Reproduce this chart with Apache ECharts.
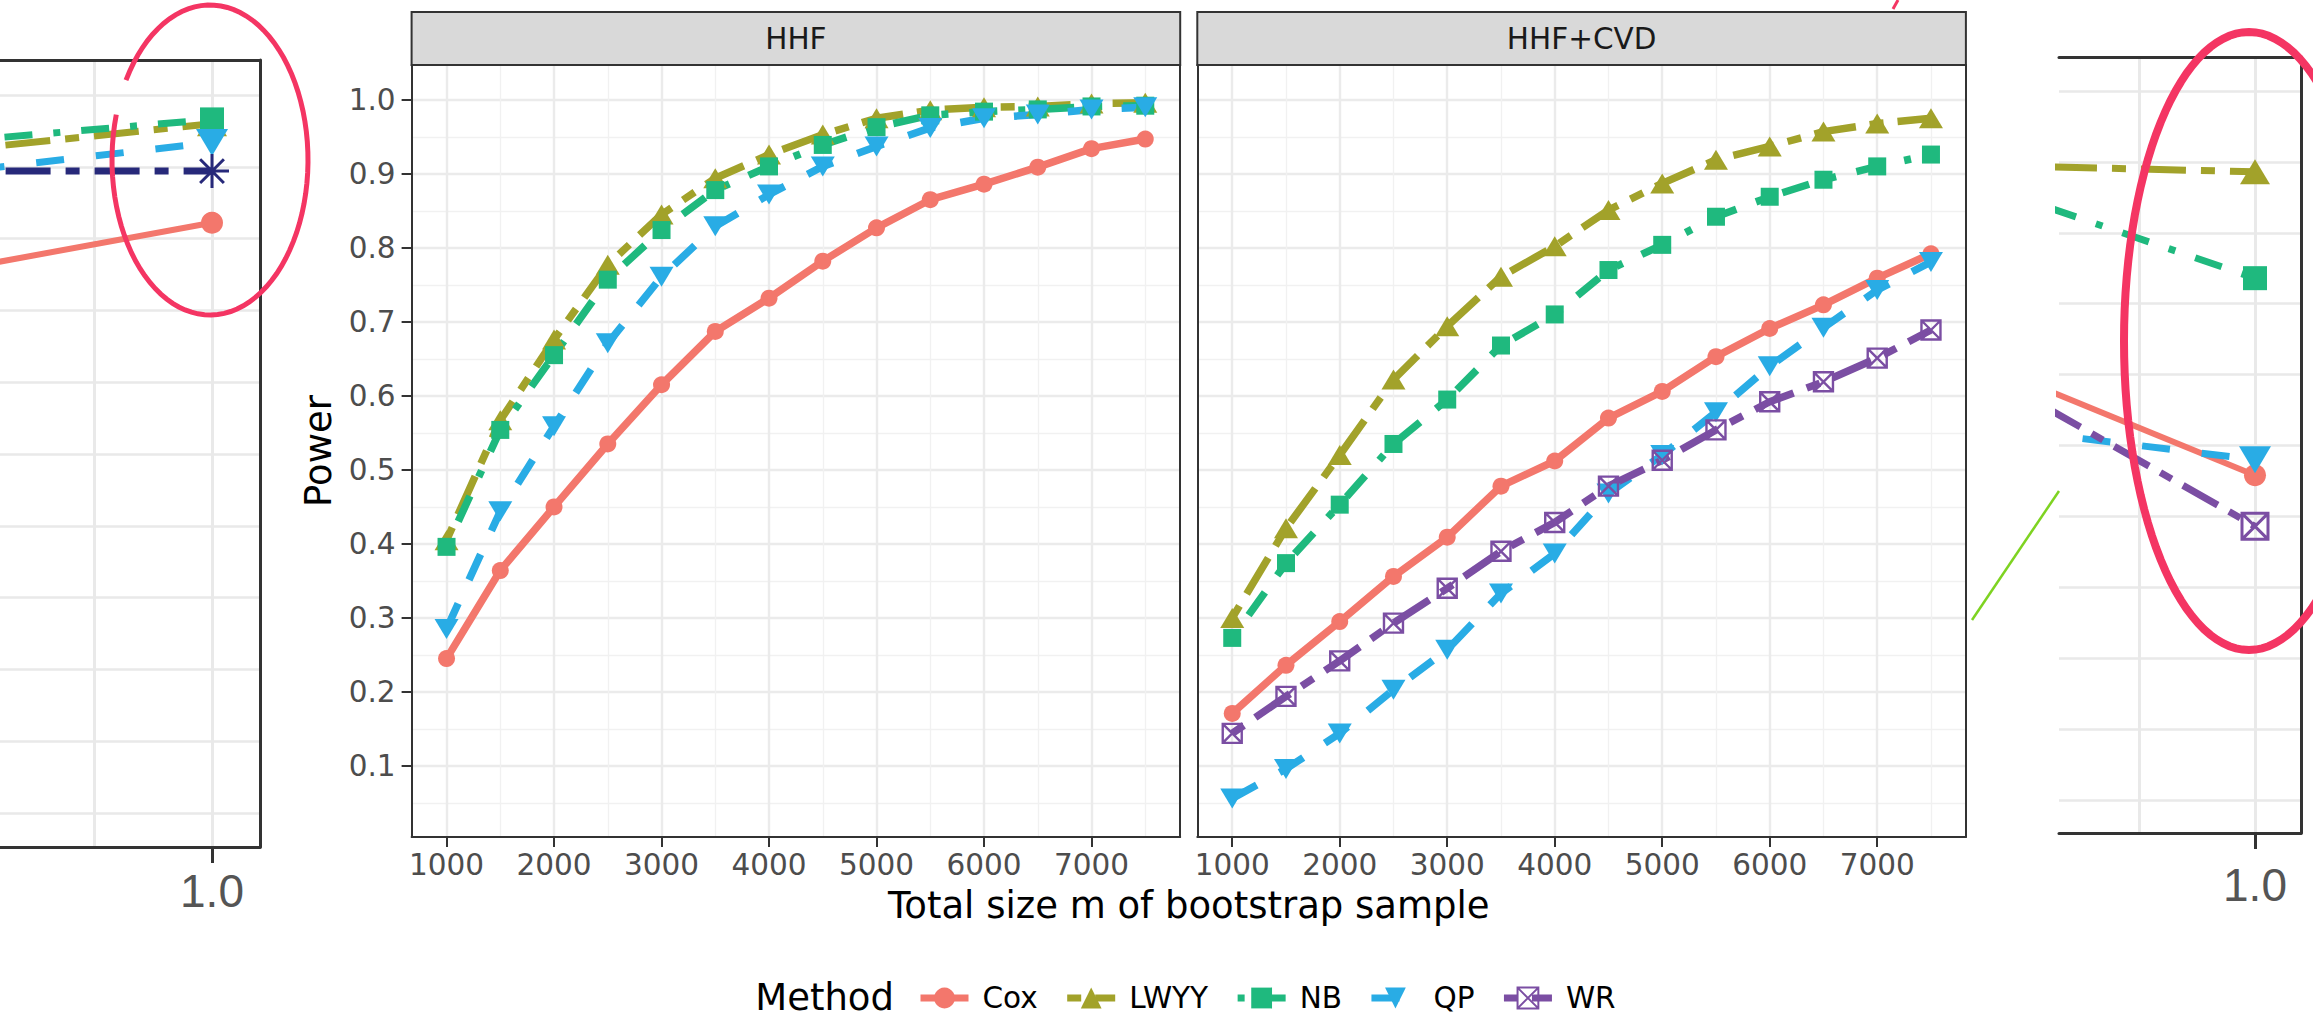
<!DOCTYPE html>
<html>
<head>
<meta charset="utf-8">
<script src="https://cdn.jsdelivr.net/npm/echarts@6/dist/echarts.min.js"></script>
<style>
html,body{margin:0;padding:0;background:#ffffff;}
#c{width:2313px;height:1018px;}
</style>
</head>
<body>
<div id="c"></div>
<script>
// ---------------- data ----------------
const sizes = [1000, 1500, 2000, 2500, 3000, 3500, 4000, 4500, 5000, 5500, 6000, 6500, 7000, 7500];
const methods = ['Cox', 'LWYY', 'NB', 'QP', 'WR'];

// panel "HHF"
const hhfCox  = [0.245, 0.364, 0.450, 0.535, 0.615, 0.687, 0.732, 0.782, 0.827, 0.865, 0.886, 0.909, 0.934, 0.947];
const hhfLWYY = [0.405, 0.567, 0.676, 0.777, 0.845, 0.894, 0.926, 0.953, 0.975, 0.986, 0.990, 0.991, 0.995, 0.996];
const hhfNB   = [0.396, 0.554, 0.655, 0.757, 0.824, 0.878, 0.910, 0.939, 0.963, 0.979, 0.984, 0.987, 0.991, 0.992];
const hhfQP   = [0.285, 0.444, 0.559, 0.671, 0.761, 0.829, 0.872, 0.910, 0.937, 0.962, 0.975, 0.980, 0.987, 0.990];

// panel "HHF+CVD"
const cvdCox  = [0.171, 0.236, 0.295, 0.356, 0.409, 0.478, 0.512, 0.570, 0.606, 0.653, 0.691, 0.723, 0.759, 0.792];
const cvdLWYY = [0.300, 0.421, 0.520, 0.622, 0.694, 0.761, 0.802, 0.851, 0.887, 0.919, 0.937, 0.957, 0.968, 0.975];
const cvdNB   = [0.273, 0.374, 0.453, 0.535, 0.595, 0.668, 0.710, 0.770, 0.804, 0.842, 0.869, 0.892, 0.910, 0.926];
const cvdQP   = [0.056, 0.096, 0.144, 0.203, 0.257, 0.333, 0.387, 0.468, 0.520, 0.578, 0.640, 0.692, 0.743, 0.781];
const cvdWR   = [0.144, 0.194, 0.242, 0.293, 0.340, 0.390, 0.429, 0.478, 0.513, 0.554, 0.592, 0.619, 0.651, 0.689];

// magnified detail crops (left and right insets)
const detailX    = [0.5, 1.0];
const leftCox    = [0.881, 0.911];
const leftLWYY   = [0.963, 0.980];
const leftNB     = [0.969, 0.983];
const leftQP     = [0.948, 0.967];
const leftOther  = [0.947, 0.947];
const rightCox   = [0.796, 0.729];
const rightLWYY  = [0.947, 0.943];
const rightNB    = [0.924, 0.868];
const rightQP    = [0.760, 0.740];
const rightWR    = [0.786, 0.693];

// tick labels / gridlines
const xMajor = [1000, 2000, 3000, 4000, 5000, 6000, 7000];
const xMinor = [1500, 2500, 3500, 4500, 5500, 6500, 7500];
const yMajor = [0.1, 0.2, 0.3, 0.4, 0.5, 0.6, 0.7, 0.8, 0.9, 1.0];
const yMinor = [0.05, 0.15, 0.25, 0.35, 0.45, 0.55, 0.65, 0.75, 0.85, 0.95];
const detailXMajor = [1.0];
const detailXMinor = [0.75];
const detailY = [0.5, 0.55, 0.6, 0.65, 0.7, 0.75, 0.8, 0.85, 0.9, 0.95, 1.0];

// ---------------- styles ----------------
const COL = {Cox:'#F3776C', LWYY:'#A2A22A', NB:'#1FB97E', QP:'#29ACE5', WR:'#7B4EA3', Other:'#27297A'};
const SYM = {
  Cox: 'circle',
  LWYY: 'triangle',
  NB: 'rect',
  QP: 'path://M0,0 L20,0 L10,17 Z',
  WR: 'path://M0,0 L10,0 L10,10 L0,10 Z M0,0 L10,10 M10,0 L0,10',
  Other: 'path://M5,0 L5,10 M0,5 L10,5 M1.5,1.5 L8.5,8.5 M8.5,1.5 L1.5,8.5'
};
const MAIN_SIZE = {Cox:17, LWYY:[24,20], NB:18, QP:[24,20], WR:19};
const MAIN_DASH = {Cox:'solid', LWYY:[14,14,42,14], NB:[7,21,28,21], QP:[28,26], WR:[14,14,42,14]};
const DET_SIZE = {Cox:22, LWYY:[30,25], NB:24, QP:[32,27], WR:26, Other:34};
const DET_DASH = {Cox:'solid', LWYY:[14,15,45,15], NB:[7,21,28,21], QP:[28,32], WR:[13,13,40,13], Other:[14,15,45,15]};

const FONT = 'DejaVu Sans';
const FRAME = '#333333';

function itemStyleFor(m, bw) {
  if (m === 'WR' || m === 'Other') {
    return {color:'rgba(0,0,0,0)', borderColor:COL[m], borderWidth:bw, opacity:1};
  }
  return {color:COL[m], opacity:1};
}

function lineSeries(name, m, xi, yi, xs, ys, big) {
  return {
    type:'line', name:name, xAxisIndex:xi, yAxisIndex:yi,
    data: xs.map((x, i) => [x, ys[i]]),
    symbol: SYM[m],
    symbolSize: big ? DET_SIZE[m] : MAIN_SIZE[m],
    showSymbol:true,
    clip:true,
    lineStyle:{color:COL[m], width: big ? (m === 'Cox' ? 6 : 7) : 7.5, type: big ? DET_DASH[m] : MAIN_DASH[m], cap:'butt'},
    itemStyle: itemStyleFor(m, big ? 3 : 2.4),
    emphasis:{disabled:true},
    animation:false
  };
}

// ---------------- axes ----------------
function mainX(grid, ticks, withLabels, pos, line) {
  return {
    type:'value', gridIndex:grid, min:675, max:7825, position:pos,
    axisLine:{show:line, onZero:false, lineStyle:{color:FRAME, width:2}},
    axisTick:{show:withLabels, customValues:ticks, length:10, lineStyle:{color:FRAME, width:2}},
    axisLabel:{show:withLabels, customValues:ticks, color:'#4d4d4d', fontSize:29.5, fontFamily:FONT, margin:13,
               formatter:(v) => String(Math.round(v))},
    splitLine:{show:true, lineStyle:{color: withLabels ? '#EBEBEB' : '#F1F1F1', width: withLabels ? 2.4 : 1.3}}
  };
}
function mainY(grid, ticks, withLabels, isMajor, pos) {
  return {
    type:'value', gridIndex:grid, min:0.004, max:1.047, position:pos,
    axisLine:{show:true, onZero:false, lineStyle:{color:FRAME, width:2}},
    axisTick:{show:withLabels, customValues:ticks, length:10, lineStyle:{color:FRAME, width:2}},
    axisLabel:{show:withLabels, customValues:ticks, color:'#4d4d4d', fontSize:29.5, fontFamily:FONT, margin:16,
               formatter:(v) => Number(v).toFixed(1)},
    splitLine:{show:true, lineStyle:{color: isMajor ? '#EBEBEB' : '#F1F1F1', width: isMajor ? 2.4 : 1.3}}
  };
}
function detX(grid, min, max, ticks, withLabels, pos, margin) {
  return {
    type:'value', gridIndex:grid, min:min, max:max, position:pos,
    axisLine:{show:true, onZero:false, lineStyle:{color:FRAME, width:3}},
    axisTick:{show:withLabels, customValues:ticks, length:16, lineStyle:{color:FRAME, width:3}},
    axisLabel:{show:withLabels, customValues:ticks, color:'#555555', fontSize:46, fontFamily:'Liberation Sans', margin:margin,
               formatter:(v) => Number(v).toFixed(1)},
    splitLine:{show:true, lineStyle:{color:'#E9E9E9', width:3}}
  };
}
function detY(grid, min, max) {
  return {
    type:'value', gridIndex:grid, min:min, max:max, position:'right',
    axisLine:{show:true, onZero:false, lineStyle:{color:FRAME, width:3}},
    axisTick:{show:false, customValues:detailY},
    axisLabel:{show:false},
    splitLine:{show:true, lineStyle:{color:'#E9E9E9', width:2.6}}
  };
}

const grids = [
  {left:411.6, top:65, width:768.6, height:772, show:false, containLabel:false, outerBoundsMode:'none'},
  {left:1197.3, top:65, width:768.6, height:772, show:false, containLabel:false, outerBoundsMode:'none'},
  {left:-3, top:60, width:263, height:787, show:false, containLabel:false, outerBoundsMode:'none'},
  {left:2059, top:57, width:242, height:776, show:false, containLabel:false, outerBoundsMode:'none'}
];

const xAxes = [
  mainX(0, xMajor, true, 'bottom', true),   // 0
  mainX(0, xMinor, false, 'top', true),     // 1
  mainX(1, xMajor, true, 'bottom', true),   // 2
  mainX(1, xMinor, false, 'top', true),     // 3
  detX(2, 0.54333, 1.10195, detailXMajor, true, 'bottom', 21),  // 4
  detX(2, 0.54333, 1.10195, detailXMinor, false, 'top', 0),     // 5
  detX(3, 0.57759, 1.09914, detailXMajor, true, 'bottom', 29),  // 6
  detX(3, 0.57759, 1.09914, detailXMinor, false, 'top', 0)      // 7
];
const yAxes = [
  mainY(0, yMajor, true, true, 'left'),    // 0
  mainY(0, yMinor, false, false, 'right'), // 1
  mainY(1, yMajor, false, true, 'left'),   // 2
  mainY(1, yMinor, false, false, 'right'), // 3
  detY(2, 0.47632, 1.02437),               // 4
  detY(3, 0.47673, 1.02398)                // 5
];

const series = [
  lineSeries('Cox',  'Cox',  0, 0, sizes, hhfCox,  false),
  lineSeries('LWYY', 'LWYY', 0, 0, sizes, hhfLWYY, false),
  lineSeries('NB',   'NB',   0, 0, sizes, hhfNB,   false),
  lineSeries('QP',   'QP',   0, 0, sizes, hhfQP,   false),
  lineSeries('Cox',  'Cox',  2, 2, sizes, cvdCox,  false),
  lineSeries('LWYY', 'LWYY', 2, 2, sizes, cvdLWYY, false),
  lineSeries('NB',   'NB',   2, 2, sizes, cvdNB,   false),
  lineSeries('QP',   'QP',   2, 2, sizes, cvdQP,   false),
  lineSeries('WR',   'WR',   2, 2, sizes, cvdWR,   false),
  lineSeries('detail-left Cox',   'Cox',   4, 4, detailX, leftCox,   true),
  lineSeries('detail-left LWYY',  'LWYY',  4, 4, detailX, leftLWYY,  true),
  lineSeries('detail-left NB',    'NB',    4, 4, detailX, leftNB,    true),
  lineSeries('detail-left QP',    'QP',    4, 4, detailX, leftQP,    true),
  lineSeries('detail-left other', 'Other', 4, 4, detailX, leftOther, true),
  lineSeries('detail-right Cox',  'Cox',   6, 5, detailX, rightCox,  true),
  lineSeries('detail-right LWYY', 'LWYY',  6, 5, detailX, rightLWYY, true),
  lineSeries('detail-right NB',   'NB',    6, 5, detailX, rightNB,   true),
  lineSeries('detail-right QP',   'QP',    6, 5, detailX, rightQP,   true),
  lineSeries('detail-right WR',   'WR',    6, 5, detailX, rightWR,   true)
];

// hand-drawn annotation loops (decoration, not data)
function loop(cx, cy, rx, ry, a0, a1, n) {
  const pts = [];
  for (let i = 0; i <= n; i++) {
    const a = (a0 + (a1 - a0) * i / n) * Math.PI / 180;
    pts.push([cx + rx * Math.cos(a), cy + ry * Math.sin(a)]);
  }
  return pts;
}

const RED = '#F43563';
const graphics = [
  // facet strips
  {type:'rect', z:10, shape:{x:411.6, y:12, width:768.6, height:53}, style:{fill:'#D9D9D9', stroke:FRAME, lineWidth:2}},
  {type:'text', z:11, x:795.9, y:38.5, style:{text:'HHF', font:'29.5px "DejaVu Sans"', fill:'#1a1a1a', align:'center', verticalAlign:'middle'}},
  {type:'rect', z:10, shape:{x:1197.3, y:12, width:768.6, height:53}, style:{fill:'#D9D9D9', stroke:FRAME, lineWidth:2}},
  {type:'text', z:11, x:1581.6, y:38.5, style:{text:'HHF+CVD', font:'29.5px "DejaVu Sans"', fill:'#1a1a1a', align:'center', verticalAlign:'middle'}},
  // axis titles
  {type:'text', z:11, x:318, y:451, rotation:Math.PI/2, style:{text:'Power', font:'37px "DejaVu Sans"', fill:'#000', align:'center', verticalAlign:'middle'}},
  {type:'text', z:11, x:1188.8, y:905, style:{text:'Total size m of bootstrap sample', font:'37px "DejaVu Sans"', fill:'#000', align:'center', verticalAlign:'middle'}},
  // legend title
  {type:'text', z:11, x:894, y:997, style:{text:'Method', font:'37px "DejaVu Sans"', fill:'#000', align:'right', verticalAlign:'middle'}},
  // annotations
  {type:'polyline', z:20, shape:{points: loop(210, 160, 98, 155, 211, 557, 90)}, style:{fill:'none', stroke:RED, lineWidth:5}},
  {type:'polyline', z:20, shape:{points: loop(2249, 341, 125, 309, 0, 360, 120)}, style:{fill:'none', stroke:RED, lineWidth:8}},
  {type:'line', z:20, shape:{x1:1893, y1:9, x2:1898, y2:0}, style:{stroke:RED, lineWidth:3}},
  {type:'line', z:20, shape:{x1:1972, y1:620, x2:2059, y2:491}, style:{stroke:'#7ED321', lineWidth:2.5}}
];

const chart = echarts.init(document.getElementById('c'), null, {renderer:'svg', width:2313, height:1018});
chart.setOption({
  animation:false,
  backgroundColor:'#ffffff',
  textStyle:{fontFamily:FONT},
  grid: grids,
  xAxis: xAxes,
  yAxis: yAxes,
  legend:{
    data: methods, left:912, top:978, orient:'horizontal',
    itemWidth:48, itemHeight:26, itemGap:26, selectedMode:false,
    lineStyle:{width:7},
    textStyle:{fontSize:29.5, fontFamily:FONT, color:'#000', padding:[0,0,0,9]}
  },
  series: series,
  graphic: graphics
});
</script>
</body>
</html>
